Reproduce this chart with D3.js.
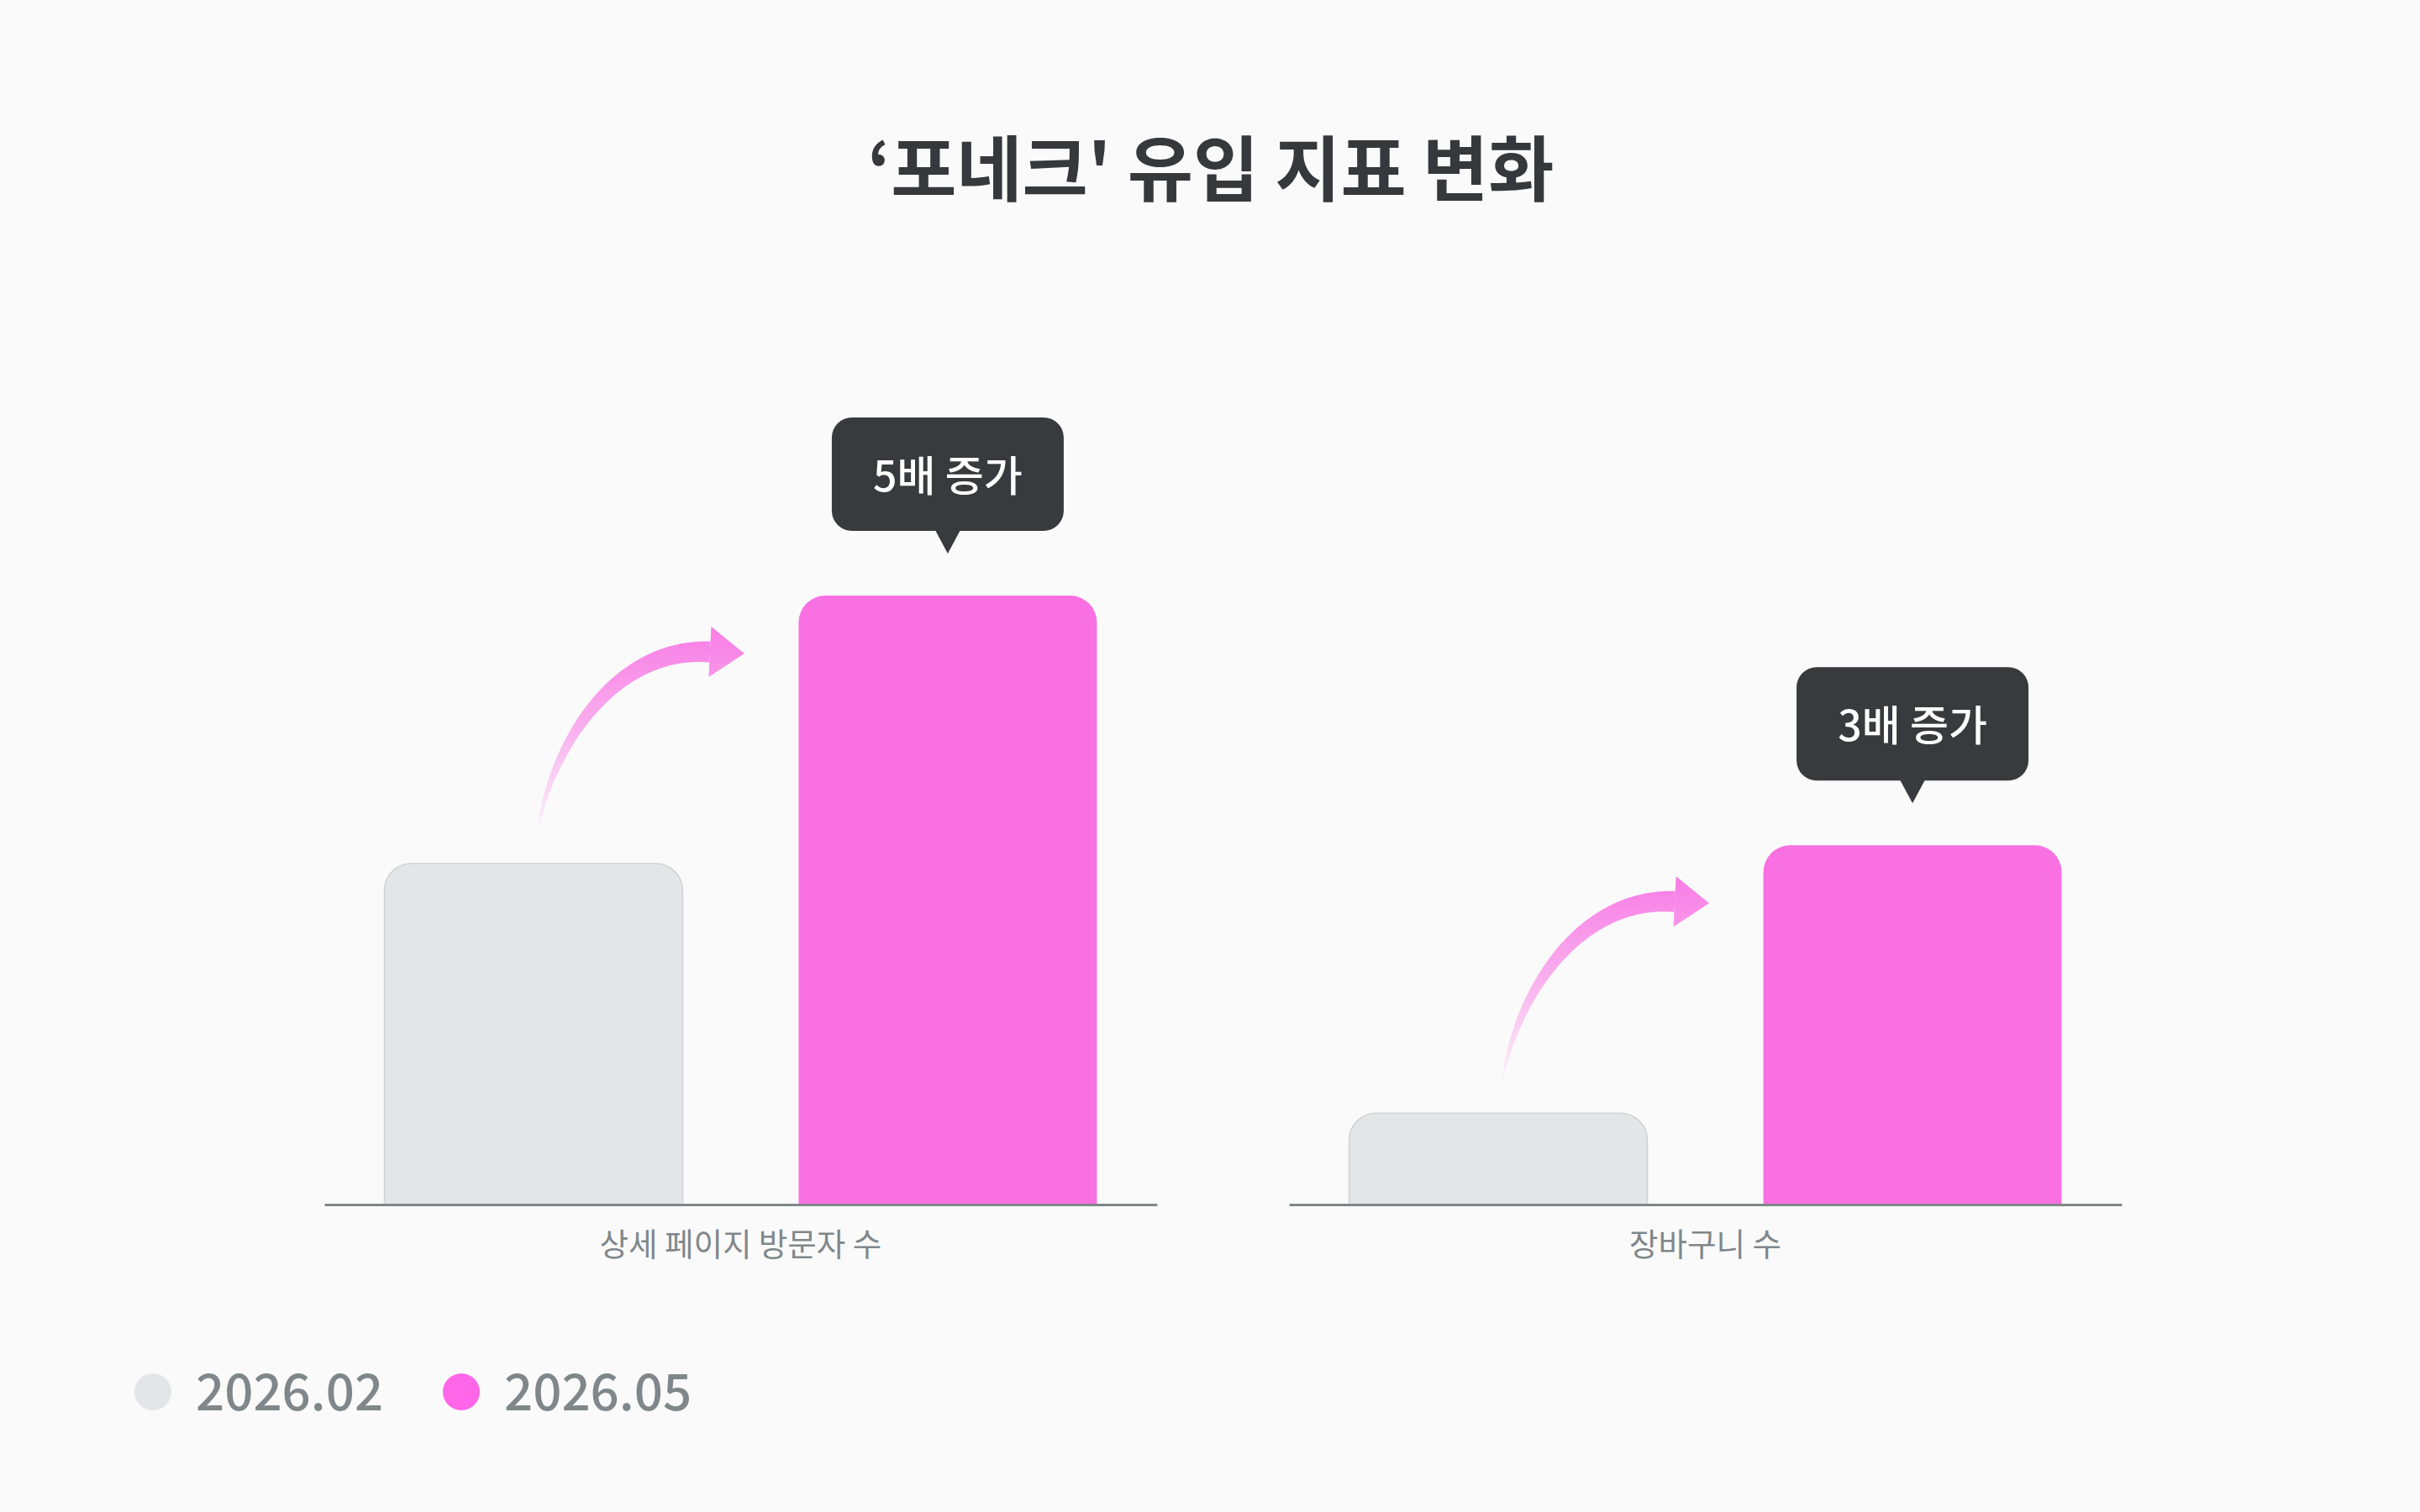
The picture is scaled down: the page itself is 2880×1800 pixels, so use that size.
<!DOCTYPE html>
<html>
<head>
<meta charset="utf-8">
<script src="https://cdn.jsdelivr.net/npm/d3@7"></script>
<style>
  html, body { margin: 0; padding: 0; background: #fafafa; }
  svg { display: block; font-family: "Noto Sans CJK KR", "Noto Sans", sans-serif; }
</style>
</head>
<body>
<script>
// data
const CATEGORIES = ["상세 페이지 방문자 수", "장바구니 수"];
const SERIES = ["2026.02", "2026.05"];
const VALUES_0202 = [56, 15];
const VALUES_0205 = [100, 59];
const CHANGE_LABELS = ["5배 증가", "3배 증가"];
const TITLE = "‘포네크' 유입 지표 변화";

const COLORS = { "2026.02": "#e3e6e7", "2026.05": "#f970e2" };
const LEGEND_COLORS = { "2026.02": "#e3e5e8", "2026.05": "#ff66e8" };

const W = 2880, H = 1800;
const BASE_Y = 1434;

const svg = d3.select('body').append('svg')
  .attr('width', W)
  .attr('height', H);

svg.append('rect').attr('width', W).attr('height', H).attr('fill', '#fafafa');

// title
svg.append('text')
  .attr('x', 1441)
  .attr('y', 195)
  .attr('text-anchor', 'middle')
  .attr('dominant-baseline', 'central')
  .attr('font-size', 85)
  .attr('font-weight', 700)
  .attr('fill', '#37383c')
  .text(TITLE);

const x0 = d3.scaleBand().domain(CATEGORIES).range([386, 2525]).paddingInner(0.137);
const x1 = d3.scaleBand().domain(SERIES).range([0, x0.bandwidth()]).paddingInner(0.28).paddingOuter(0.145);
const y = d3.scaleLinear().domain([0, 100]).range([BASE_Y, 709]);

const rows = CATEGORIES.map((c, i) => ({
  cat: c,
  vals: [VALUES_0202[i], VALUES_0205[i]],
  label: CHANGE_LABELS[i]
}));

// rounded top bar
function topRounded(x, yy, w, h, r) {
  return `M${x},${yy + h}V${yy + r}A${r},${r} 0 0 1 ${x + r},${yy}H${x + w - r}A${r},${r} 0 0 1 ${x + w},${yy + r}V${yy + h}Z`;
}

const defs = svg.append('defs');

const groups = svg.selectAll('.group')
  .data(rows)
  .enter()
  .append('g')
  .classed('group', true)
  .attr('transform', d => `translate(${x0(d.cat)},0)`);

// bars
groups.selectAll('.bar')
  .data(d => SERIES.map((s, j) => ({ s: s, v: d.vals[j] })))
  .enter()
  .append('path')
  .classed('bar', true)
  .attr('d', d => topRounded(x1(d.s), y(d.v), x1.bandwidth(), BASE_Y - y(d.v), 32))
  .attr('fill', d => COLORS[d.s])
  .attr('stroke', d => d.s === "2026.02" ? '#cfd3d5' : 'none')
  .attr('stroke-width', 1.5);

// axis line per group
groups.append('g')
  .attr('transform', `translate(0,${BASE_Y})`)
  .call(d3.axisBottom(x1).tickSize(0).tickFormat(''))
  .call(g => g.select('.domain').attr('stroke', '#80878a').attr('stroke-width', 3));

// category labels
groups.append('text')
  .attr('x', x0.bandwidth() / 2)
  .attr('y', 1478)
  .attr('text-anchor', 'middle')
  .attr('dominant-baseline', 'central')
  .attr('font-size', 37.5)
  .attr('fill', '#80878a')
  .text(d => d.cat);

// curved arrows from the old bar to the new one
function bez(p, t) {
  const u = 1 - t;
  return [
    u * u * u * p[0][0] + 3 * u * u * t * p[1][0] + 3 * u * t * t * p[2][0] + t * t * t * p[3][0],
    u * u * u * p[0][1] + 3 * u * u * t * p[1][1] + 3 * u * t * t * p[2][1] + t * t * t * p[3][1]
  ];
}
function bezD(p, t) {
  const u = 1 - t;
  return [
    3 * u * u * (p[1][0] - p[0][0]) + 6 * u * t * (p[2][0] - p[1][0]) + 3 * t * t * (p[3][0] - p[2][0]),
    3 * u * u * (p[1][1] - p[0][1]) + 6 * u * t * (p[2][1] - p[1][1]) + 3 * t * t * (p[3][1] - p[2][1])
  ];
}

groups.each(function (d, i) {
  const g = d3.select(this);
  const tx = x1(SERIES[0]) + x1.bandwidth() / 2 + 4;
  const ty = y(d.vals[0]) - 34;
  const pts = [[tx, ty], [tx + 15, ty - 100], [tx + 88, ty - 224], [tx + 206, ty - 218]];

  const grad = defs.append('linearGradient')
    .attr('id', 'arrowGrad' + i)
    .attr('gradientUnits', 'userSpaceOnUse')
    .attr('x1', 0).attr('x2', 0)
    .attr('y1', ty).attr('y2', ty - 250);
  grad.append('stop').attr('offset', 0).attr('stop-color', '#f874e4').attr('stop-opacity', 0.03);
  grad.append('stop').attr('offset', 0.5).attr('stop-color', '#f874e4').attr('stop-opacity', 0.55);
  grad.append('stop').attr('offset', 1).attr('stop-color', '#f874e4').attr('stop-opacity', 0.95);

  const left = [], right = [];
  const N = 60;
  for (let k = 0; k <= N; k++) {
    const t = k / N;
    const c = bez(pts, t);
    const dv = bezD(pts, t);
    const len = Math.hypot(dv[0], dv[1]);
    const nx = -dv[1] / len, ny = dv[0] / len;
    const w = 25 * Math.pow(t, 0.8) / 2;
    left.push([c[0] + nx * w, c[1] + ny * w]);
    right.push([c[0] - nx * w, c[1] - ny * w]);
  }
  const shaft = left.concat(right.reverse());
  g.append('path')
    .attr('d', d3.line()(shaft) + 'Z')
    .attr('fill', `url(#arrowGrad${i})`);

  // head
  const end = pts[3];
  const dv = bezD(pts, 1);
  const len = Math.hypot(dv[0], dv[1]);
  const ux = dv[0] / len, uy = dv[1] / len;
  const head = [
    [end[0] - uy * 30, end[1] + ux * 30],
    [end[0] + ux * 41, end[1] + uy * 41],
    [end[0] + uy * 30, end[1] - ux * 30]
  ];
  g.append('path')
    .attr('d', d3.line()(head) + 'Z')
    .attr('fill', `url(#arrowGrad${i})`);
});

// tooltips over the new bars
const tip = groups.append('g')
  .attr('transform', d => `translate(${x1(SERIES[1]) + x1.bandwidth() / 2},${y(d.vals[1]) - 50})`);

tip.append('rect')
  .attr('x', -138)
  .attr('y', -27 - 135)
  .attr('width', 276)
  .attr('height', 135)
  .attr('rx', 24)
  .attr('fill', '#393a3d');

tip.append('path')
  .attr('d', 'M-15,-28L15,-28L0,0Z')
  .attr('fill', '#393a3d');

tip.append('text')
  .attr('x', 0)
  .attr('y', -27 - 69)
  .attr('text-anchor', 'middle')
  .attr('dominant-baseline', 'central')
  .attr('font-size', 50)
  .attr('font-weight', 500)
  .attr('fill', '#ffffff')
  .text(d => d.label);

// legend
const legend = svg.append('g').attr('transform', 'translate(182,1657)');
const items = legend.selectAll('.item')
  .data(SERIES)
  .enter()
  .append('g')
  .classed('item', true)
  .attr('transform', (d, i) => `translate(${i * 367},0)`);

items.append('circle')
  .attr('r', 22)
  .attr('fill', d => LEGEND_COLORS[d]);

items.append('text')
  .attr('x', 51)
  .attr('y', -5)
  .attr('dominant-baseline', 'central')
  .attr('font-size', 60)
  .attr('font-weight', 500)
  .attr('fill', '#80878a')
  .text(d => d);
</script>
</body>
</html>
